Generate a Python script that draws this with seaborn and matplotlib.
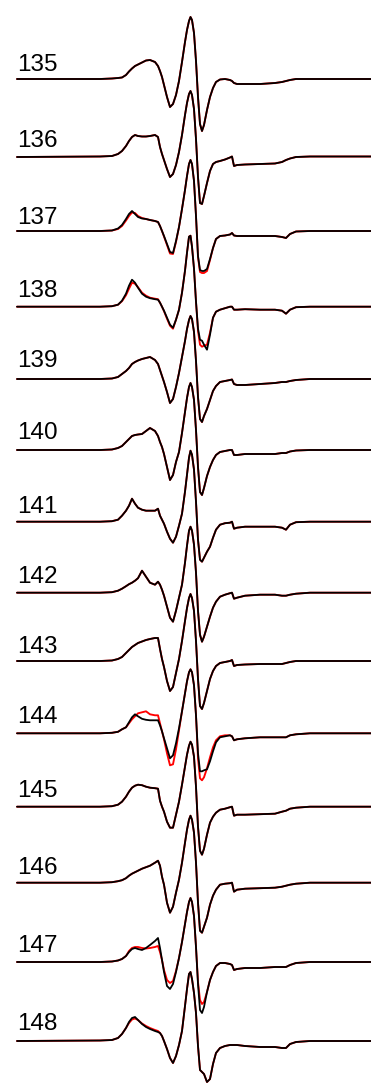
import numpy as np
import pandas as pd
import matplotlib
matplotlib.use("Agg")
import matplotlib.pyplot as plt
import seaborn as sns

# Field positions shared by all spectra (arbitrary field units)
field = [17, 100, 112, 118, 122, 126, 129, 132, 135, 138,
         142, 146, 150, 155, 158, 160, 162, 164, 167, 170,
         173, 176, 179, 182, 185, 187, 189, 190.5, 192, 194,
         196, 198, 200, 202, 204, 207, 210, 213, 216, 220,
         225, 230, 232, 234, 237, 245, 260, 275, 282, 286,
         290, 296, 310, 371]

samples = ["135", "136", "137", "138", "139", "140", "141",
           "142", "143", "144", "145", "146", "147", "148"]

# Experimental first-derivative spectra (black)
exp_135 = [0, 0, 0.5, 1, 1.5, 4, 7.5, 10.5, 13, 14.5,
           16.5, 18.5, 19, 17, 13, 8, 2, -6, -18, -28,
           -25, -16, -2, 17, 37, 49, 58, 62, 59, 46,
           18, -18, -45, -52, -46, -31, -18, -9, -3, -0.5,
           0, -1, -2, -4, -5, -5, -5, -4, -3, -2,
           -1, 0, 0, 0]
exp_136 = [0, 0.5, 1, 3, 6, 11, 16, 20, 22, 21,
           20.5, 20.5, 21, 22, 20, 10, 3, -3, -12, -20,
           -17, -8, 5, 22, 42, 54, 63, 66, 62, 48,
           18, -20, -46, -47, -39, -26, -14, -7, -5, -4,
           -2.5, -0.5, 0.5, -9, -8, -7.5, -7, -6.5, -5, -3,
           -1.5, 0, 0.5, 0.5]
exp_137 = [0, 0, 0.5, 2.5, 6, 12, 17, 20, 17, 14,
           12.5, 12, 11, 10, 9, 5, 0, -5, -13, -21,
           -22, -10, 4, 22, 41, 55, 67, 71, 67, 50,
           15, -25, -39, -40, -40, -38, -28, -17, -8, -5,
           -4.5, -3.5, -2, -4.5, -5, -5, -5, -5, -6, -7,
           -3, -0.5, 0, 0]
exp_138 = [0, 0, 0.5, 2, 6, 13, 21, 27, 24, 19,
           13, 10, 8.5, 7.5, 7, 4, 0, -4, -11, -18,
           -21, -13, -3, 14, 36, 54, 70, 71, 60, 38,
           5, -22, -33, -34, -38, -43, -28, -11, -5, -3,
           -1.5, 0, 0, -3, -3, -2.5, -3, -3, -4, -7,
           -3, -0.5, 0, 0]
exp_139 = [0, 0, 0.5, 2, 5, 8, 11, 15, 17, 18.5,
           20, 21, 22, 19, 15, 9, 3, -3, -13, -24,
           -20, -8, 6, 22, 38, 50, 59, 63, 60, 47,
           18, -18, -40, -43, -37, -30, -21, -12, -7, -3,
           -2, -1, -0.5, -5, -6, -6, -5, -4, -3, -3,
           -2, -1, 0, 0]
exp_140 = [0, 0, 0.5, 2, 4, 8, 11, 14, 15, 15.5,
           16, 19, 22, 19, 14, 8, 3, -4, -17, -30,
           -25, -12, -2, 17, 38, 52, 63, 67, 63, 50,
           20, -17, -42, -45, -38, -26, -17, -10, -5, -2,
           -1, 0, 0, -5, -5, -4, -4, -4, -3, -3,
           -1.5, -0.5, 0, 0]
exp_141 = [0, 0, 0.5, 2, 6, 11, 16, 23, 18, 14,
           12, 11, 11, 11, 13, 6, 2, -2, -10, -17,
           -21, -15, -4, 8, 30, 47, 64, 71, 67, 52,
           20, -18, -38, -40, -36, -30, -25, -16, -8, -3,
           -1.5, -1, 0, -7, -6, -5, -5, -5, -6, -8,
           -3, -0.5, 0, 0]
exp_142 = [0, 0, 0.5, 2, 4, 6.5, 8.5, 10, 12, 14.5,
           22, 16, 10, 8, 11, 8, 3, -3, -14, -25,
           -29, -18, -5, 8, 30, 47, 62, 66, 62, 48,
           20, -18, -42, -49, -44, -34, -24, -15, -9, -4,
           -2, -0.5, 0, -6, -5, -3, -2, -2, -3, -3,
           -2, -1, 0, 0]
exp_143 = [0, 0, 0.5, 2, 4, 8, 11, 14, 16, 18,
           19.5, 21, 22, 23, 23, 12, 2, -6, -20, -30,
           -26, -12, 2, 20, 40, 53, 63, 67, 63, 50,
           20, -18, -45, -48, -42, -30, -18, -10, -5, -2,
           -1, 0, 1, -5, -4, -3.5, -3, -3, -3, -2,
           -1, 0, 0, 0]
exp_144 = [0, 0, 0.5, 1.5, 4, 6, 11, 16, 19, 17,
           14.5, 13.5, 13, 13, 13, 8, 2, -5, -15, -25,
           -22, -10, 5, 22, 40, 52, 61, 64, 61, 48,
           18, -20, -38, -38, -37, -36, -28, -18, -9, -4,
           -3, -2, -3, -7, -6, -5, -4, -4, -4, -4,
           -2, -1, 0, 0]
exp_145 = [0, 0, 0.5, 2, 5, 10, 15, 19, 21, 22,
           21.5, 20, 19, 18.5, 18, 6, 0, -5, -15, -21,
           -21, -8, 5, 22, 40, 52, 61, 65, 62, 50,
           20, -20, -44, -48, -42, -28, -16, -10, -6, -3,
           -2, -0.5, 0, -9, -8, -8, -7.5, -7, -5, -4,
           -2, -1, 0, 0]
exp_146 = [0, 0, 0.5, 1.5, 2.5, 4.5, 7, 9, 10.5, 12,
           14, 15.5, 17, 20, 22, 17, 6, -2, -20, -30,
           -24, -10, 3, 20, 40, 53, 63, 67, 63, 50,
           20, -20, -48, -50, -44, -35, -22, -13, -7, -2,
           -1, -0.5, 0, -9, -7, -6, -5.5, -5, -4, -3,
           -2, -1, 0, 0]
exp_147 = [0, 0, 0.5, 1.5, 3, 6, 10, 13, 14, 13,
           12, 14, 17, 21, 24, 14, 2, -10, -24, -27,
           -22, -10, 4, 20, 38, 50, 60, 64, 60, 46,
           15, -22, -48, -51, -45, -30, -18, -10, -4, -1,
           -1, -2, -3, -8, -7, -6, -6, -5, -5, -5,
           -3, -1, 0, 0]
exp_148 = [0, 0.5, 1, 3, 7, 13, 19, 23, 24, 21,
           17, 14, 12, 10, 9, 8, 5, 0, -8, -17,
           -22, -15, -4, 10, 35, 52, 67, 69, 62, 48,
           28, -5, -29, -31, -33, -41, -38, -23, -12, -7,
           -5, -4, -4, -4, -4, -5, -6, -6, -7, -7,
           -3, -1, 0, 0]

# Simulated spectra (red); where the fit coincides with the data the same list is used
sim_135 = exp_135
sim_136 = exp_136
sim_137 = [0, 0, 0.5, 2, 5, 10.5, 15, 18.5, 18, 15,
           13, 12, 11, 10, 9, 5, 0, -5.5, -14, -22.5,
           -23, -11, 4, 22, 41, 55, 67, 71, 67, 50,
           15, -26, -41, -42, -42, -40, -29, -17, -8, -5,
           -4.5, -3.5, -2, -4.5, -5, -5, -5, -5, -6, -7,
           -3, -0.5, 0, 0]
sim_138 = [0, 0, 0.5, 2, 5.5, 11.5, 18, 24, 23, 19.5,
           14, 11, 9, 8, 7.5, 4, 0, -4.5, -12, -19,
           -22, -13, -3, 14, 36, 54, 70, 71, 60, 38,
           5, -24, -38, -40, -39, -38, -26, -11, -5, -3,
           -1.5, 0, 0, -3, -3, -2.5, -3, -3, -4, -7,
           -3, -0.5, 0, 0]
sim_139 = exp_139
sim_140 = exp_140
sim_141 = exp_141
sim_142 = exp_142
sim_143 = exp_143
sim_144 = [0, 0, 0.5, 1.5, 4, 6, 10, 14, 17, 20,
           21, 22, 19, 18, 18, 10, 2, -6, -20, -32,
           -31, -16, 3, 22, 40, 52, 61, 64, 61, 48,
           18, -25, -45, -47, -44, -35, -24, -14, -7, -3,
           -2, -2, -3, -7, -6, -5, -4, -4, -4, -4,
           -2, -1, 0, 0]
sim_145 = exp_145
sim_146 = exp_146
sim_147 = [0, 0, 0.5, 1.5, 3, 6, 11, 14, 15, 15,
           14, 13.5, 14, 15, 16, 10, 2, -8, -18, -21,
           -19, -9, 4, 20, 38, 50, 60, 64, 60, 46,
           15, -20, -38, -42, -40, -30, -18, -10, -4, -1,
           -1, -2, -3, -8, -7, -6, -6, -5, -5, -5,
           -3, -1, 0, 0]
sim_148 = [0, 0.5, 1, 3, 7, 13, 18, 21.5, 22.5, 21,
           17.5, 15, 13, 11, 10, 8, 5, 0, -8, -17,
           -22, -15, -4, 10, 35, 52, 67, 69, 62, 48,
           28, -5, -29, -31, -33, -41, -38, -23, -12, -7,
           -5, -4, -4, -4, -4, -5, -6, -6, -7, -7,
           -3, -1, 0, 0]

experimental = [exp_135, exp_136, exp_137, exp_138, exp_139, exp_140, exp_141,
                exp_142, exp_143, exp_144, exp_145, exp_146, exp_147, exp_148]
simulated = [sim_135, sim_136, sim_137, sim_138, sim_139, sim_140, sim_141,
             sim_142, sim_143, sim_144, sim_145, sim_146, sim_147, sim_148]

# Vertical stacking of the traces and their labels
trace_offset = [79, 157, 231, 306.7, 379, 450, 521.7,
                592.7, 661, 733.3, 806.7, 882.7, 962, 1041]
label_offset = [70.7, 146.7, 224, 297.3, 367.3, 439.3, 513.3,
                583.3, 653.3, 723.3, 796.7, 874.3, 951.7, 1030]

sns.set_theme(style="white")
plt.rcParams["font.family"] = ["Liberation Sans", "DejaVu Sans"]

fig = plt.figure(figsize=(3.71, 10.86), dpi=100)
ax = fig.add_axes([0, 0, 1, 1])
ax.set_xlim(0, 371)
ax.set_ylim(-1086, 0)
ax.axis("off")

x = np.asarray(field, dtype=float)
for name, e, s, off, loff in zip(samples, experimental, simulated,
                                 trace_offset, label_offset):
    sns.lineplot(x=x, y=np.asarray(s, dtype=float) - off, color="#ff0000",
                 lw=1.35, ax=ax, sort=False, estimator=None)
    sns.lineplot(x=x, y=np.asarray(e, dtype=float) - off, color="black",
                 lw=1.3, ax=ax, sort=False, estimator=None)
    ax.text(17, -loff, name, fontsize=17.5, color="black",
            ha="left", va="baseline")

fig.savefig("out.png", dpi=100)
